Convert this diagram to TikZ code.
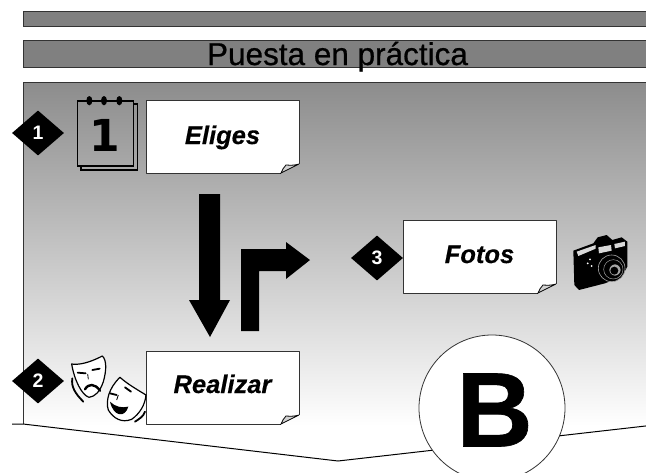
\documentclass[tikz,border=0pt]{standalone}
\usepackage{fontspec}
\setmainfont{Liberation Sans}
\usetikzlibrary{shapes.geometric}
\definecolor{bandgray}{gray}{0.5}
\definecolor{panelgray}{gray}{0.55}
\definecolor{edgegray}{gray}{0.2}
\tikzset{
  band/.style={fill=bandgray,draw=edgegray,line width=1pt},
  numdiamond/.style={diamond,fill=black,text=white,minimum width=52pt,minimum height=45pt,inner sep=0pt,font=\fontsize{19.5}{19.5}\selectfont\bfseries},
  notetext/.style={anchor=base,inner sep=0pt,font=\fontsize{25.5}{25.5}\selectfont\bfseries\itshape\addfontfeature{FakeBold=0.4}},
  bigarrow/.style={fill=black},
  maskface/.style={fill=white,draw=black,line width=1.2pt,line join=round},
  maskline/.style={draw=black,line width=1.8pt,line cap=round}
}
\newcommand{\notebox}[4]{
  \begin{scope}[shift={(#2,#3)}]
    \fill[white] (0,0) -- (153,0) -- (153,64) -- (135,73) -- (0,73) -- cycle;
    \fill[gray!35] (153,64) .. controls (146,66) and (143,65) .. (140,65) .. controls (138,67) and (136,70) .. (135,73) -- cycle;
    \draw[edgegray,line width=0.9pt,line join=round] (135,73) -- (0,73) -- (0,0) -- (153,0) -- (153,64);
    \draw[black,line width=0.8pt] (153,64) .. controls (146,66) and (143,65) .. (140,65) .. controls (138,67) and (136,70) .. (135,73) -- (153,64);
    \node[notetext] (#1) at (76.5,#4) {#1};
  \end{scope}
}
\begin{document}
\begin{tikzpicture}[x=1pt,y=-1pt]
  \clip (0,0) rectangle (646,472);
  \fill[white] (0,0) rectangle (646,472);

  \draw[band] (23,11) rectangle (650,26);
  \draw[band] (23,40) rectangle (650,67);
  \node[anchor=base,inner sep=0pt,font=\fontsize{31.5}{31.5}\selectfont\addfontfeature{FakeBold=0.7}] (titulo) at (337.5,65) {Puesta en práctica};

  \shade[top color=panelgray,bottom color=white] (23,82) rectangle (650,426);
  \fill[white] (0,424) -- (12,424) -- (338,461) -- (650,425.5) -- (650,472) -- (0,472) -- cycle;
  \draw[edgegray,line width=1pt] (23,424) -- (23,82) -- (650,82);
  \draw[black,line width=1pt] (12,424) -- (23,424) -- (338,461) -- (650,425.5);

  \notebox{Eliges}{146}{100}{44}
  \notebox{Realizar}{146}{351}{42}
  \notebox{Fotos}{403}{220}{43}

  \node[numdiamond] (paso1) at (38,133) {1};
  \node[numdiamond] (paso2) at (38,381) {2};
  \node[numdiamond] (paso3) at (377,258) {3};

  \fill[bigarrow] (199,194) -- (220,194) -- (220,300) -- (230,300) -- (210,337) -- (189,300) -- (199,300) -- cycle;
  \fill[bigarrow] (241,331) -- (241,249) -- (286,249) -- (286,242) -- (310,260) -- (286,279) -- (286,271) -- (259,271) -- (259,331) -- cycle;

  \begin{scope}[shift={(70,90)},scale=0.3333]
    \draw[line width=1.2pt,black] (33,228) -- (33,240) -- (202,240) -- (202,42) -- (190,42);
    \draw[draw=black,line width=1.3pt] (23,33) rectangle (190,228);
    \foreach \ringx in {58,102,148}
      \fill[black] (\ringx,32) ellipse (9 and 14);
    \node[inner sep=0pt,font=\fontsize{44}{44}\selectfont\bfseries] (uno) at (105,135) {\fontspec{DejaVu Sans}1};
  \end{scope}

  \begin{scope}[shift={(65,350)},scale=0.3333]
    \draw[maskline] (22,85) .. controls (18,110) and (30,130) .. (55,155);
    \draw[maskface] (20,42) .. controls (40,45) and (70,40) .. (112,18) .. controls (125,30) and (125,60) .. (115,95) .. controls (105,125) and (90,140) .. (72,142) .. controls (50,135) and (28,90) .. (20,42) -- cycle;
    \draw[maskline] (38,68) -- (62,70);
    \draw[maskline] (82,60) -- (104,56);
    \draw[maskline,line width=2.4pt] (60,118) .. controls (70,100) and (90,100) .. (105,122);
    \draw[black,line width=0.8pt] (68,72) -- (70,88);
    \draw[maskline] (240,185) .. controls (235,200) and (225,205) .. (210,215);
    \draw[maskface] (165,82) .. controls (185,100) and (210,115) .. (243,135) .. controls (240,165) and (225,190) .. (200,208) .. controls (170,220) and (145,205) .. (130,180) .. controls (122,155) and (130,115) .. (165,82) -- cycle;
    \draw[maskline] (135,130) -- (155,135);
    \draw[maskline] (180,112) -- (198,125);
    \fill[black] (135,155) .. controls (150,170) and (170,175) .. (190,170) .. controls (180,205) and (145,200) .. (135,155) -- cycle;
    \draw[black,line width=0.8pt] (160,135) -- (155,150);
  \end{scope}

  \begin{scope}[shift={(565,230)},scale=0.3333]
    \fill[black] (25,62) -- (85,40) -- (98,22) -- (125,15) -- (142,30) -- (170,22) -- (187,35) -- (187,110) -- (170,140) -- (120,160) -- (42,180) -- (28,165) -- cycle;
    \fill[gray!30] (35,65) -- (92,45) -- (92,56) -- (40,78) -- cycle;
    \fill[gray!30] (148,42) -- (180,35) -- (180,48) -- (150,55) -- cycle;
    \fill[gray!30] (100,52) -- (138,45) -- (140,62) -- (102,70) -- cycle;
    \fill[white] (68,100) circle (3);
    \fill[white] (75,88) circle (3);
    \fill[white] (80,108) circle (3);
    \draw[fill=black,draw=gray!70,line width=0.6pt] (140,115) circle (40);
    \draw[draw=gray!80,line width=0.5pt] (145,118) circle (29);
    \draw[fill=gray!70,draw=black,line width=0.6pt] (150,120) circle (18);
    \fill[black] (148,122) circle (12);
  \end{scope}

  \draw[fill=white,draw=edgegray,line width=0.8pt] (492,408) circle (73);
  \node[inner sep=0pt,font=\fontsize{106}{106}\selectfont\bfseries\addfontfeature{FakeBold=0.6}] (letra) at (494.5,410) {B};
\end{tikzpicture}
\end{document}
